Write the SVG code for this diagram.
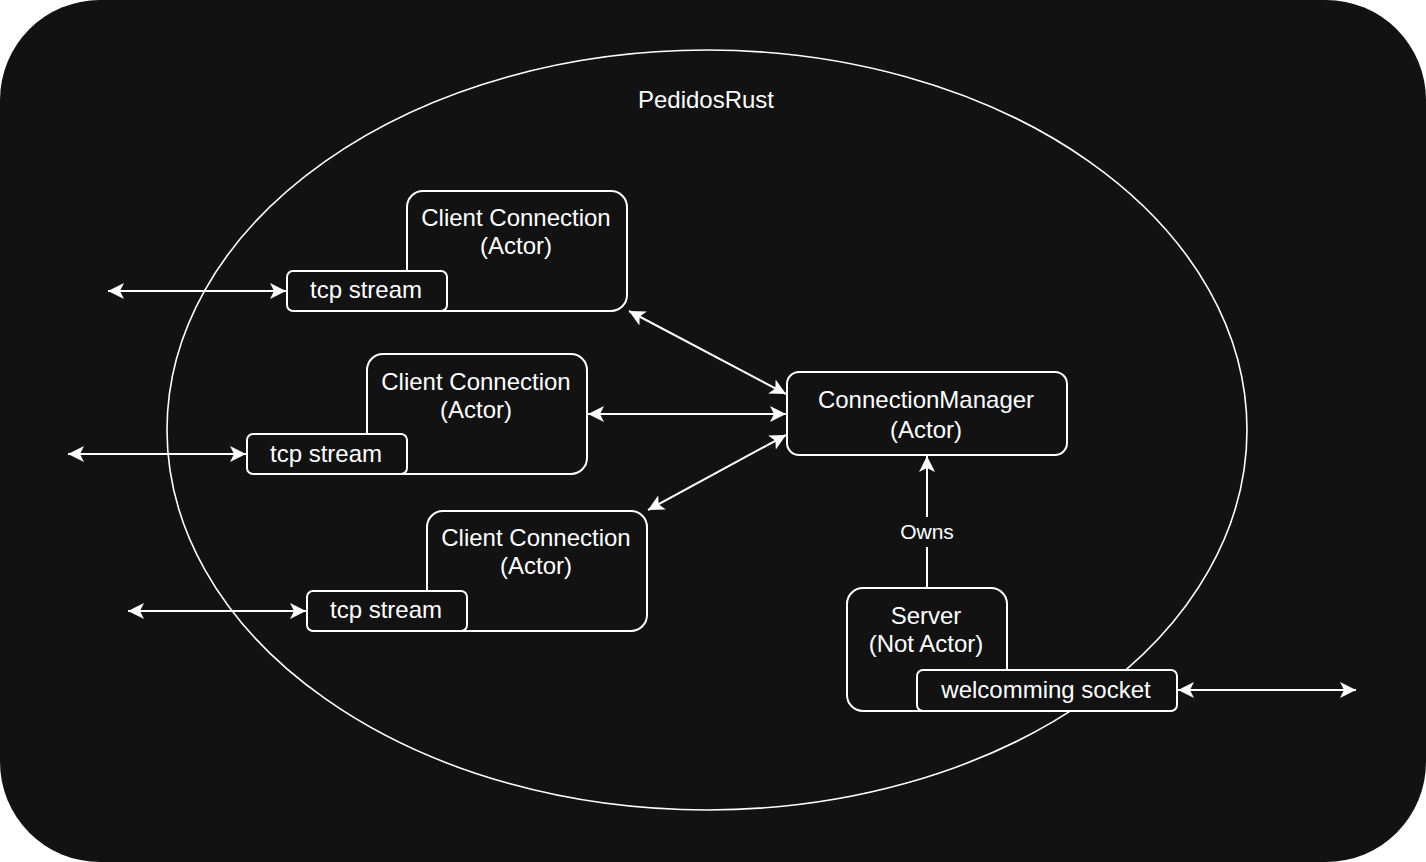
<svg xmlns="http://www.w3.org/2000/svg" width="1426" height="862" viewBox="0 0 1426 862">
<defs>
<style>
.bg{fill:#121212;}
.box{fill:#121212;stroke:#ffffff;stroke-width:2;}
.edge{stroke:#ffffff;stroke-width:2;fill:none;}
.t{font-family:"Liberation Sans",Arial,sans-serif;font-size:24px;fill:#ffffff;text-anchor:middle;}
.lbl{font-family:"Liberation Sans",Arial,sans-serif;font-size:21px;fill:#ffffff;text-anchor:middle;}
</style>
<marker id="arr" markerUnits="userSpaceOnUse" markerWidth="16" markerHeight="16" refX="16" refY="8" orient="auto-start-reverse" viewBox="0 0 16 16">
<path d="M0,0 L16,8 L0,16 L4,8 z" fill="#ffffff"/>
</marker>
</defs>
<rect class="bg" x="0" y="0" width="1426" height="862" rx="100" ry="100"/>
<g id="pedidosrust">
<ellipse cx="707" cy="430" rx="540" ry="380" fill="none" stroke="#ffffff" stroke-width="1.6"/>
<text class="t" x="706" y="108">PedidosRust</text>
</g>
<g id="connectors">
<line class="edge" x1="108" y1="291" x2="286" y2="291" marker-start="url(#arr)" marker-end="url(#arr)"/>
<line class="edge" x1="68" y1="454" x2="246" y2="454" marker-start="url(#arr)" marker-end="url(#arr)"/>
<line class="edge" x1="128" y1="611" x2="306" y2="611" marker-start="url(#arr)" marker-end="url(#arr)"/>
<line class="edge" x1="1178" y1="690" x2="1356" y2="690" marker-start="url(#arr)" marker-end="url(#arr)"/>
<line class="edge" x1="629" y1="311" x2="786" y2="394" marker-start="url(#arr)" marker-end="url(#arr)"/>
<line class="edge" x1="588" y1="414" x2="786" y2="414" marker-start="url(#arr)" marker-end="url(#arr)"/>
<line class="edge" x1="648" y1="510" x2="786" y2="435" marker-start="url(#arr)" marker-end="url(#arr)"/>
<line class="edge" x1="927" y1="588" x2="927" y2="456" marker-end="url(#arr)"/>
<rect class="bg" x="896" y="517" width="62" height="30"/>
<text class="lbl" x="927" y="539">Owns</text>
</g>
<g id="client1">
<rect class="box" x="407" y="191" width="220" height="120" rx="16" ry="16"/>
<text class="t" x="516" y="226">Client Connection</text>
<text class="t" x="516" y="254">(Actor)</text>
</g>
<g id="tcp1">
<rect class="box" x="287" y="271" width="160" height="40" rx="6" ry="6"/>
<text class="t" x="366" y="298">tcp stream</text>
</g>
<g id="client2">
<rect class="box" x="367" y="354" width="220" height="120" rx="16" ry="16"/>
<text class="t" x="476" y="390">Client Connection</text>
<text class="t" x="476" y="418">(Actor)</text>
</g>
<g id="tcp2">
<rect class="box" x="247" y="434" width="160" height="40" rx="6" ry="6"/>
<text class="t" x="326" y="462">tcp stream</text>
</g>
<g id="client3">
<rect class="box" x="427" y="511" width="220" height="120" rx="16" ry="16"/>
<text class="t" x="536" y="546">Client Connection</text>
<text class="t" x="536" y="574">(Actor)</text>
</g>
<g id="tcp3">
<rect class="box" x="307" y="591" width="160" height="40" rx="6" ry="6"/>
<text class="t" x="386" y="618">tcp stream</text>
</g>
<g id="connectionmanager">
<rect class="box" x="787" y="372" width="280" height="83" rx="12" ry="12"/>
<text class="t" x="926" y="408">ConnectionManager</text>
<text class="t" x="926" y="438">(Actor)</text>
</g>
<g id="server">
<rect class="box" x="847" y="588" width="160" height="123" rx="16" ry="16"/>
<text class="t" x="926" y="624">Server</text>
<text class="t" x="926" y="652">(Not Actor)</text>
</g>
<g id="welcomming">
<rect class="box" x="917" y="670" width="260" height="41" rx="6" ry="6"/>
<text class="t" x="1046" y="698">welcomming socket</text>
</g>
</svg>
